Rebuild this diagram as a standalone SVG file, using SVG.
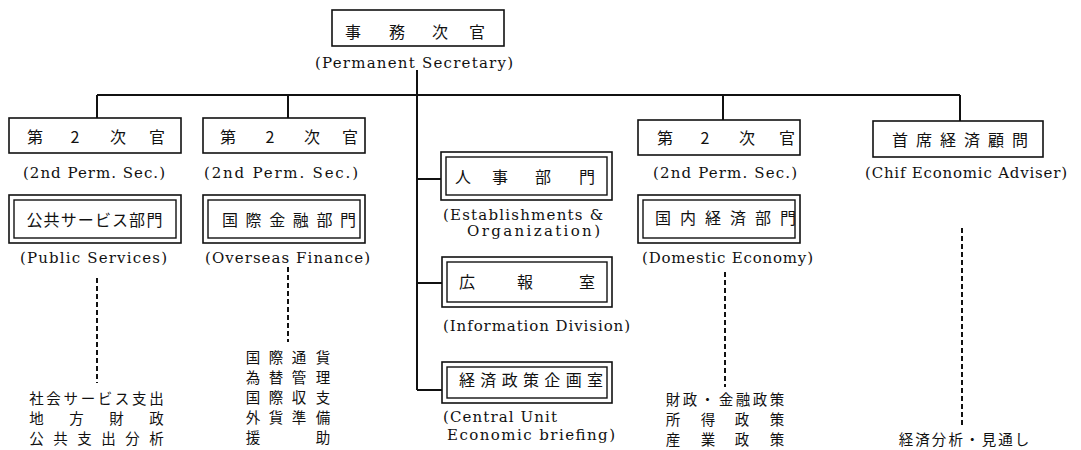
<svg xmlns="http://www.w3.org/2000/svg" width="1081" height="450" viewBox="0 0 1081 450">
<style>
.bx{fill:#fff;stroke:#111;stroke-width:1.6}
.in{fill:none;stroke:#111;stroke-width:1.4}
.jp{font-family:"Noto Sans CJK JP","Noto Sans CJK SC",sans-serif;font-size:16px;fill:#111;text-anchor:middle}
.sm{font-size:14.5px}
.en{font-family:"DejaVu Serif","Liberation Serif",serif;font-size:15px;fill:#111}
.ln{fill:none;stroke:#111;stroke-width:2}
.dl{fill:none;stroke:#111;stroke-width:2;stroke-dasharray:5 3}
</style>
<rect width="1081" height="450" fill="#fff"/>
<g id="connectors">
<path class="ln" d="M417 70V390M97 95H960M97 95V118M288 95V118M723 95V120M960 95V121M417 179H441M417 283H442M417 390H442"/>
<path class="dl" d="M97 278V383M288 267V342M725 272V387M962 228V425"/>
</g>
<g id="n-top">
<rect class="bx" x="332" y="10" width="172" height="36"/>
<text class="jp" x="353 397 440 477" y="38">事務次官</text>
<text class="en" x="315" y="68" textLength="198" lengthAdjust="spacing">(Permanent Secretary)</text>
</g>
<g id="n-2nd-1">
<rect class="bx" x="9" y="118" width="172" height="35"/>
<text class="jp" x="35 75 118 157" y="143">第2次官</text>
<text class="en" x="23" y="178" textLength="142" lengthAdjust="spacing">(2nd Perm. Sec.)</text>
</g>
<g id="n-2nd-2">
<rect class="bx" x="203" y="118" width="162" height="35"/>
<text class="jp" x="228 270 312 350" y="143">第2次官</text>
<text class="en" x="204" y="178" textLength="154" lengthAdjust="spacing">(2nd Perm. Sec.)</text>
</g>
<g id="n-2nd-3">
<rect class="bx" x="638" y="120" width="162" height="35"/>
<text class="jp" x="665 705 747 787" y="144">第2次官</text>
<text class="en" x="653" y="178" textLength="144" lengthAdjust="spacing">(2nd Perm. Sec.)</text>
</g>
<g id="n-adviser">
<rect class="bx" x="873" y="121" width="170" height="36"/>
<text class="jp" x="900 924 948 972 996 1020" y="146">首席経済顧問</text>
<text class="en" x="865" y="178" textLength="202" lengthAdjust="spacing">(Chif Economic Adviser)</text>
</g>
<g id="n-public">
<rect class="bx" x="9" y="195" width="172" height="48"/>
<rect class="in" x="14" y="200" width="162" height="38"/>
<text class="jp" x="34.5 51.6 68.7 85.8 102.9 120 137.1 154.5" y="226">公共サービス部門</text>
<text class="en" x="20" y="263" textLength="147" lengthAdjust="spacing">(Public Services)</text>
</g>
<g id="n-overseas">
<rect class="bx" x="203" y="195" width="162" height="48"/>
<rect class="in" x="208" y="200" width="152" height="38"/>
<text class="jp" x="230 253.6 277.2 300.8 324.4 348" y="226">国際金融部門</text>
<text class="en" x="205" y="263" textLength="165" lengthAdjust="spacing">(Overseas Finance)</text>
</g>
<g id="n-establishments">
<rect class="bx" x="441" y="152" width="171" height="48"/>
<rect class="in" x="446" y="157" width="161" height="38"/>
<text class="jp" x="463 500 543 587" y="183">人事部門</text>
<text class="en" x="443" y="220" textLength="160" lengthAdjust="spacing">(Establishments &amp;</text>
<text class="en" x="467" y="236" textLength="133" lengthAdjust="spacing">Organization)</text>
</g>
<g id="n-information">
<rect class="bx" x="442" y="257" width="170" height="50"/>
<rect class="in" x="447" y="262" width="160" height="40"/>
<text class="jp" x="467 525 587" y="288">広報室</text>
<text class="en" x="443" y="331" textLength="187" lengthAdjust="spacing">(Information Division)</text>
</g>
<g id="n-central">
<rect class="bx" x="442" y="362" width="170" height="41"/>
<rect class="in" x="447" y="367" width="160" height="31"/>
<text class="jp" x="467 488.3 509.7 531 552.3 573.7 595" y="386">経済政策企画室</text>
<text class="en" x="443" y="422" textLength="114" lengthAdjust="spacing">(Central Unit</text>
<text class="en" x="447" y="440" textLength="168" lengthAdjust="spacing">Economic briefing)</text>
</g>
<g id="n-domestic">
<rect class="bx" x="638" y="195" width="162" height="48"/>
<rect class="in" x="643" y="200" width="152" height="38"/>
<text class="jp" x="663 688 713 738 763 788" y="224">国内経済部門</text>
<text class="en" x="642" y="263" textLength="171" lengthAdjust="spacing">(Domestic Economy)</text>
</g>
<g id="t-public">
<text class="jp sm" x="36.5 53.6 70.8 87.9 105 122.1 139.3 156.5" y="404">社会サービス支出</text>
<text class="jp sm" x="36.5 76.5 116.5 156.5" y="424">地方財政</text>
<text class="jp sm" x="36.5 60.5 84.5 108.5 132.5 156.5" y="444">公共支出分析</text>
</g>
<g id="t-overseas">
<text class="jp sm" x="253 276 299 323" y="363">国際通貨</text>
<text class="jp sm" x="253 276 299 323" y="383">為替管理</text>
<text class="jp sm" x="253 276 299 323" y="403">国際収支</text>
<text class="jp sm" x="253 276 299 323" y="423">外貨準備</text>
<text class="jp sm" x="253 323" y="443">援助</text>
</g>
<g id="t-domestic">
<text class="jp sm" x="673 690 707.5 726 743 760 777" y="405">財政・金融政策</text>
<text class="jp sm" x="673 708 742 777" y="425">所得政策</text>
<text class="jp sm" x="673 708 742 777" y="445">産業政策</text>
</g>
<g id="t-adviser">
<text class="jp sm" x="906 922.6 939.1 955.7 972.3 988.9 1005.4 1022" y="445">経済分析・見通し</text>
</g>
</svg>
